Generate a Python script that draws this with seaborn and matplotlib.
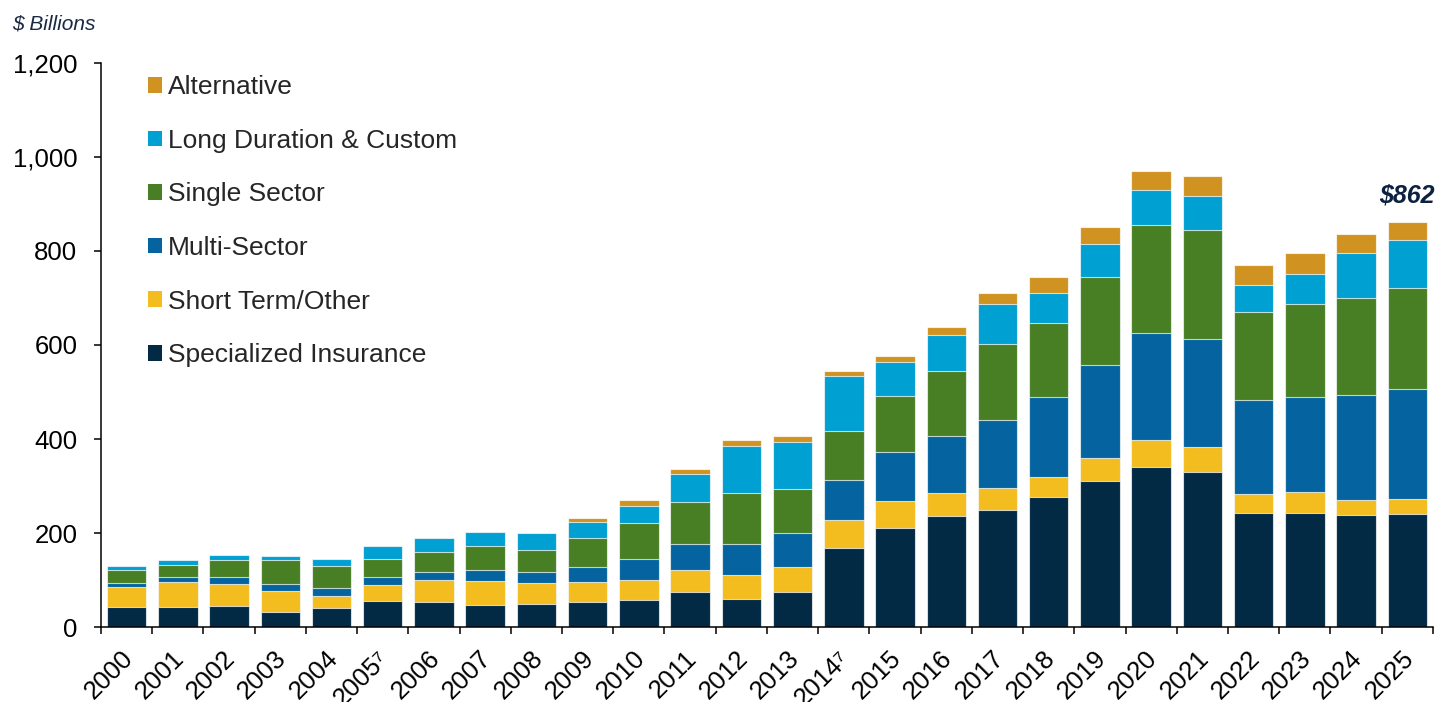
import matplotlib
matplotlib.use("Agg")
import matplotlib.pyplot as plt
import matplotlib.transforms as mtransforms
from matplotlib.patches import Patch
import numpy as np
import pandas as pd
import seaborn as sns

# $ billions per year
years = ["2000", "2001", "2002", "2003", "2004", "2005\u2077", "2006", "2007",
         "2008", "2009", "2010", "2011", "2012", "2013", "2014\u2077", "2015",
         "2016", "2017", "2018", "2019", "2020", "2021", "2022", "2023",
         "2024", "2025"]
specialized_insurance = [42, 42, 45, 33, 40, 55, 53, 47, 50, 53, 57, 74, 60, 75,
                         168, 211, 236, 250, 277, 311, 341, 330, 242, 243, 238, 240]
short_term_other = [43, 54, 46, 44, 27, 35, 47, 51, 43, 43, 43, 48, 51, 53,
                    60, 57, 50, 46, 43, 48, 57, 52, 42, 44, 33, 32]
multi_sector = [8, 11, 15, 14, 15, 16, 18, 23, 24, 32, 44, 55, 65, 71,
                85, 104, 121, 144, 169, 199, 227, 230, 200, 202, 222, 235]
single_sector = [28, 26, 37, 51, 48, 38, 41, 51, 46, 62, 77, 89, 109, 94,
                 104, 120, 138, 162, 157, 187, 230, 232, 187, 199, 208, 214]
long_duration_custom = [9, 9, 10, 10, 15, 28, 30, 31, 36, 33, 36, 59, 101, 101,
                        116, 71, 77, 85, 64, 70, 75, 72, 57, 64, 95, 102]
alternative = [0, 0, 0, 0, 0, 0, 0, 0, 0, 10, 14, 11, 11, 12,
               12, 14, 16, 23, 35, 35, 40, 43, 42, 43, 41, 39]

series_names = ["Specialized Insurance", "Short Term/Other", "Multi-Sector",
                "Single Sector", "Long Duration & Custom", "Alternative"]
series_values = [specialized_insurance, short_term_other, multi_sector,
                 single_sector, long_duration_custom, alternative]
colors = ["#022a45", "#f3bd20", "#05649f", "#487e24", "#00a0d2", "#d09321"]

df = pd.DataFrame(dict(zip(series_names, series_values)), index=years)
cum = df.cumsum(axis=1)

sns.set_theme(style="white")
plt.rcParams["font.family"] = ["Liberation Sans", "DejaVu Sans"]

fig = plt.figure(figsize=(14.4, 7.02), dpi=100)
ax = fig.add_axes([0.0701, 0.1068, 0.925, 0.8035])

# stacked bars: draw cumulative totals from the top layer down
for name, color in reversed(list(zip(series_names, colors))):
    sns.barplot(x=years, y=cum[name].values, color=color, width=0.77,
                saturation=1, errorbar=None, edgecolor=(1, 1, 1, 0.7),
                linewidth=0.8, ax=ax)

ax.set_xlim(-0.5, len(years) - 0.5)
ax.set_ylim(0, 1200)
ax.set_yticks(range(0, 1201, 200))
ax.set_yticklabels([f"{v:,}" for v in range(0, 1201, 200)])

ax.set_xticks(range(len(years)))
ax.set_xticklabels(years, rotation=45, ha="right", va="top",
                   rotation_mode="anchor")
ax.set_xticks(np.arange(-0.5, len(years), 1), minor=True)
ax.tick_params(axis="x", which="major", length=0, pad=14, labelsize=18.5,
               labelcolor="black")
ax.tick_params(axis="x", which="minor", length=5, width=1.1, color="black",
               direction="out", bottom=True)
ax.tick_params(axis="y", length=5, width=1.1, color="black", direction="out",
               left=True, pad=12, labelsize=18.5, labelcolor="black")
ax.set_xlabel("")
ax.set_ylabel("")

# nudge the rotated year labels a little to the left
shift = mtransforms.ScaledTranslation(-6 / 100, 0, fig.dpi_scale_trans)
for lbl in ax.get_xticklabels():
    lbl.set_transform(lbl.get_transform() + shift)

sns.despine(ax=ax)
for side in ["left", "bottom"]:
    ax.spines[side].set_color("black")
    ax.spines[side].set_linewidth(1.1)

handles = [Patch(facecolor=c, edgecolor="none") for c in reversed(colors)]
ax.legend(handles, list(reversed(series_names)), loc="upper left",
          bbox_to_anchor=(0.035, 0.978), frameon=False, fontsize=19,
          handlelength=0.53, handleheight=0.53, handletextpad=0.25,
          labelspacing=1.12, borderpad=0, borderaxespad=0)

ax.annotate("$862", xy=(len(years) - 1, cum[series_names[-1]].iloc[-1]),
            xytext=(0, 10), textcoords="offset points", ha="center",
            va="bottom", fontsize=18, fontweight="bold", fontstyle="italic",
            color="#0d2240")

fig.text(12 / 1440, 1 - 24 / 702, "$ Billions", fontsize=15, fontstyle="italic",
         color="#1b2a44", ha="left", va="center")

fig.savefig("out.png", dpi=100)
